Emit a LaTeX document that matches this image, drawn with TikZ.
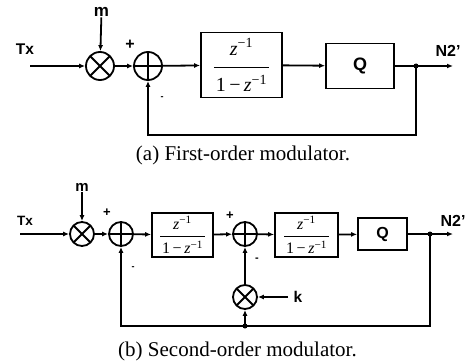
\RequirePackage{fix-cm}
\documentclass[tikz,border=0pt]{standalone}
\usepackage{amsmath}
\usepackage{fontspec}
\setmainfont{Liberation Serif}
\setsansfont{Liberation Sans}
\usetikzlibrary{arrows.meta}
\newcommand{\zfrac}[4]{% size, num-depth, den-height, bar
  \fontsize{#1}{#1}\selectfont
  $\genfrac{}{}{#4}{0}{\text{\rule[-#2]{0pt}{0pt}\textit{z}\textsuperscript{−1}}}%
  {\text{\rule{0pt}{#3}\hspace{2pt}1\,−\,\textit{z}\textsuperscript{−1}\hspace{2pt}}}$}
\begin{document}
\begin{tikzpicture}[x=1pt,y=-1pt, line width=1.8pt,
  >={Latex[length=6pt,width=5pt]},
  mult/.style={circle, draw, inner sep=0pt,
    path picture={\draw[line width=1.8pt]
      (path picture bounding box.north east) -- (path picture bounding box.south west)
      (path picture bounding box.north west) -- (path picture bounding box.south east);}},
  summ/.style={circle, draw, inner sep=0pt,
    path picture={\draw[line width=1.8pt]
      (path picture bounding box.north) -- (path picture bounding box.south)
      (path picture bounding box.west) -- (path picture bounding box.east);}},
  blk/.style={draw, inner sep=0pt},
  lbl/.style={font=\sffamily\bfseries\fontsize{15.5}{15.5}\selectfont, inner sep=0pt},
  slbl/.style={font=\sffamily\bfseries\fontsize{13.5}{13.5}\selectfont, inner sep=0pt},
  sgn/.style={font=\sffamily\bfseries\fontsize{16}{16}\selectfont, inner sep=0pt},
  captext/.style={font=\fontsize{21}{21}\selectfont, inner sep=0pt, anchor=base},
  dot/.style={circle, fill, inner sep=0pt, minimum size=5pt}
]
\useasboundingbox (0,0) rectangle (469,361);

% ---------- (a) first-order ----------
\node[lbl] (tx1) at (25,49) {Tx};
\coordinate (in1) at (30,66);
\node[mult, minimum size=28pt] (x1) at (100,66) {};
\node[lbl, font=\sffamily\bfseries\fontsize{17}{17}\selectfont] (m1) at (101.5,12) {m};
\node[summ, minimum size=28pt] (s1) at (148,66) {};
\node[blk, minimum width=81pt, minimum height=65pt] (b1) at (241.5,65)
  {\zfrac{20}{8pt}{19pt}{1.3pt}};
\node[blk, minimum width=68pt, minimum height=45pt, font=\sffamily\bfseries\fontsize{18}{18}\selectfont] (q1) at (360,66) {Q};
\node[dot] (j1) at (416,66) {};
\coordinate (o1) at (453,66);
\node[lbl, font=\sffamily\bfseries\fontsize{16}{16}\selectfont] (n1) at (448,51) {N2'};
\coordinate (fb1) at (416,135);
\node[sgn] (p1) at (130,45) {+};
\node[sgn, font=\sffamily\bfseries\fontsize{9}{9}\selectfont] (mi1) at (162,98) {-};

\draw[->] (in1) -- (x1);
\draw[->] (m1) -- (x1);
\draw[->] (x1) -- (s1);
\draw[->] (s1) -- (b1);
\draw[->] (b1) -- (q1);
\draw (q1) -- (j1.center);
\draw[->] (j1.center) -- (o1);
\draw[->] (j1.center) -- (fb1) -| (s1);

\node[captext] (c1) at (243,160) {(a) First-order modulator.};

% ---------- (b) second-order ----------
\node[slbl] (tx2) at (25,221) {Tx};
\coordinate (in2) at (20,234);
\node[mult, minimum size=24pt] (x2) at (82,234) {};
\node[slbl, font=\sffamily\bfseries\fontsize{15}{15}\selectfont] (m2) at (82,187) {m};
\node[summ, minimum size=24pt] (s2a) at (121,234) {};
\node[blk, minimum width=61pt, minimum height=44pt] (b2a) at (182.5,235)
  {\zfrac{16}{2pt}{14pt}{1.1pt}};
\node[summ, minimum size=24pt] (s2b) at (245,234) {};
\node[blk, minimum width=63pt, minimum height=44pt] (b2b) at (306.5,235)
  {\zfrac{16}{2pt}{14pt}{1.1pt}};
\node[blk, minimum width=49pt, minimum height=32pt, font=\sffamily\bfseries\fontsize{16}{16}\selectfont] (q2) at (382.5,234) {Q};
\node[dot] (j2) at (430,234) {};
\coordinate (o2) at (453,234);
\node[lbl, font=\sffamily\bfseries\fontsize{16}{16}\selectfont] (n2) at (453,221) {N2'};
\node[mult, minimum size=24pt] (km) at (245,297) {};
\node[lbl] (k) at (298,297) {k};
\coordinate (kin) at (288,297);
\coordinate (fb2) at (430,326);
\node[dot] (d2) at (245,326) {};
\node[sgn, font=\sffamily\bfseries\fontsize{13}{13}\selectfont] (p2) at (107,213) {+};
\node[sgn, font=\sffamily\bfseries\fontsize{9}{9}\selectfont] (mi2) at (133,268) {-};
\node[sgn, font=\sffamily\bfseries\fontsize{13}{13}\selectfont] (p3) at (230,216) {+};
\node[sgn, font=\sffamily\bfseries\fontsize{11}{11}\selectfont] (mi3) at (257,260) {-};

\draw[->] (in2) -- (x2);
\draw[->] (m2) -- (x2);
\draw[->] (x2) -- (s2a);
\draw[->] (s2a) -- (b2a);
\draw[->] (b2a) -- (s2b);
\draw[->] (s2b) -- (b2b);
\draw[->] (b2b) -- (q2);
\draw (q2) -- (j2.center);
\draw[->] (j2.center) -- (o2);
\draw[->] (j2.center) -- (fb2) -| (s2a);
\draw[->] (d2.center) -- (km);
\draw[->] (km) -- (s2b);
\draw[->] (kin) -- (km);

\node[captext] (c2) at (237.5,356) {(b) Second-order modulator.};
\end{tikzpicture}
\end{document}
